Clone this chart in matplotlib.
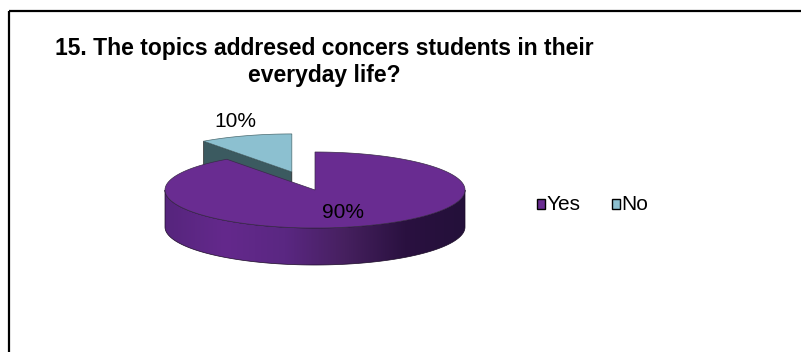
import numpy as np
import matplotlib
matplotlib.use("Agg")
import matplotlib.pyplot as plt
from matplotlib.patches import Polygon, Rectangle
from matplotlib.colors import LinearSegmentedColormap

plt.rcParams['font.family'] = ['Liberation Sans', 'DejaVu Sans']

# ---- data ----
categories = ['Yes', 'No']
values = [90, 10]
title_lines = ['15. The topics addresed concers students in their', 'everyday life?']
top_colors = ['#692c91', '#8cc0d0']
cut_colors = ['#3f1a58', '#3b5a60']

W, H = 801, 352
fig = plt.figure(figsize=(W / 100, H / 100), dpi=100)
ax = fig.add_axes([0, 0, 1, 1])
ax.set_xlim(0, W)
ax.set_ylim(H, 0)
ax.axis('off')

# frame
ax.add_patch(Rectangle((9, 11), 900, 500, fill=False, edgecolor='black', lw=1.6, zorder=0))

# title
ax.text(324, 55, title_lines[0], ha='center', va='baseline', fontsize=16.5, fontweight='bold')
ax.text(324, 82, title_lines[1], ha='center', va='baseline', fontsize=16.5, fontweight='bold')

# pie geometry (pixel space)
cx, cy, a, b, depth = 315.0, 190.0, 150.0, 38.0, 37.0
explode = [0.0, 0.5]
total = float(sum(values))


def pt(t_deg, ox=0.0, oy=0.0, dz=0.0):
    t = np.radians(t_deg)
    return cx + ox + a * np.cos(t), cy + oy - b * np.sin(t) + dz


slices = []
start = 90.0
for i, v in enumerate(values):
    th2 = start
    th1 = start - 360.0 * v / total
    start = th1
    mid = 0.5 * (th1 + th2)
    ox = explode[i] * a * np.cos(np.radians(mid))
    oy = -explode[i] * b * np.sin(np.radians(mid))
    slices.append(dict(i=i, th1=th1, th2=th2, mid=mid, ox=ox, oy=oy))

# back to front
slices.sort(key=lambda s: -np.sin(np.radians(s['mid'])))

side_cmaps = [
    LinearSegmentedColormap.from_list(
        'side0', ['#56257d', '#64298c', '#5a2782', '#46205f', '#2a1140', '#24103a']),
    LinearSegmentedColormap.from_list('side1', ['#5f8f9b', '#2f5058']),
]

for s in slices:
    i, th1, th2, ox, oy = s['i'], s['th1'], s['th2'], s['ox'], s['oy']
    T = (cx + ox, cy + oy)
    # cut faces
    for th, n in ((th1, th1 - 90), (th2, th2 + 90)):
        if np.sin(np.radians(n)) < -1e-6:
            P = pt(th, ox, oy)
            quad = [T, P, (P[0], P[1] + depth), (T[0], T[1] + depth)]
            ax.add_patch(Polygon(quad, closed=True, facecolor=cut_colors[i],
                                 edgecolor='#222222', lw=0.5, zorder=2))
    # curved front side
    for k in (-1, 0, 1):
        lo, hi = max(th1, -180 + 360 * k), min(th2, 0 + 360 * k)
        if hi > lo:
            ts = np.linspace(lo, hi, 200)
            topc = [pt(t, ox, oy) for t in ts]
            botc = [pt(t, ox, oy, depth) for t in ts[::-1]]
            poly = Polygon(topc + botc, closed=True, facecolor='none',
                           edgecolor='#1a0a26', lw=0.5, zorder=3)
            ax.add_patch(poly)
            grad = np.linspace(0, 1, 256).reshape(1, -1)
            im = ax.imshow(grad, cmap=side_cmaps[i],
                           extent=[cx + ox - a, cx + ox + a, cy + oy + b + depth, cy + oy - b],
                           aspect='auto', zorder=2.5, interpolation='bilinear')
            im.set_clip_path(poly)
    # top face
    ts = np.linspace(th1, th2, 300)
    top = [T] + [pt(t, ox, oy) for t in ts]
    ax.add_patch(Polygon(top, closed=True, facecolor=top_colors[i],
                         edgecolor='#3a2a4a' if i == 0 else '#4a6a70', lw=0.5, zorder=4))

ax.set_xlim(0, W)
ax.set_ylim(H, 0)

# data labels
pct = [f"{round(100 * v / total)}%" for v in values]
ax.text(343, 218, pct[0], ha='center', va='baseline', fontsize=15, zorder=6)
ax.text(235, 127, pct[1], ha='center', va='baseline', fontsize=15, zorder=6)

# legend
lx = [537, 612]
for i, name in enumerate(categories):
    ax.add_patch(Rectangle((lx[i], 198.5), 7.5, 10, facecolor=top_colors[i],
                           edgecolor='black', lw=1.0, zorder=6))
    ax.text(lx[i] + 9.5, 209.5, name, ha='left', va='baseline', fontsize=15, zorder=6)

fig.savefig('out.png', dpi=100)
